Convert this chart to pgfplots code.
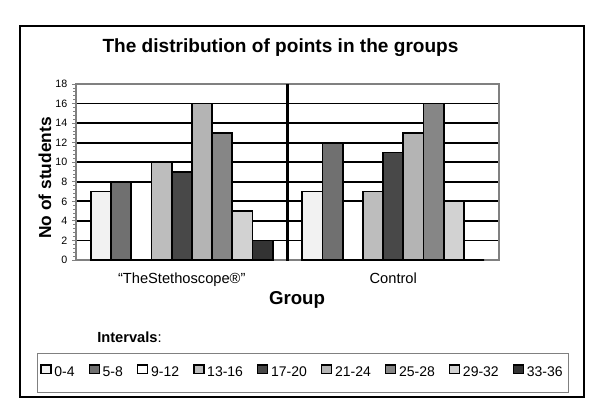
\documentclass[border=0pt]{standalone}
\usepackage{fontspec}
\setmainfont{Liberation Sans}
\usepackage{pgfplots}
\pgfplotsset{compat=1.18}

\definecolor{cA}{HTML}{F2F2F2}
\definecolor{cB}{HTML}{707070}
\definecolor{cC}{HTML}{FFFFFF}
\definecolor{cD}{HTML}{BDBDBD}
\definecolor{cE}{HTML}{484848}
\definecolor{cF}{HTML}{B4B4B4}
\definecolor{cG}{HTML}{868686}
\definecolor{cH}{HTML}{D2D2D2}
\definecolor{cI}{HTML}{333333}

\pgfplotsset{
  sqbar/.style={fill=#1, draw=black, line width=1.4pt,
    legend image code/.code={\draw[##1,line width=1.1pt] (0pt,-0.5pt) rectangle (7.5pt,6pt);}},
}

\begin{document}
\begin{tikzpicture}
\begin{scope}[x=0.75pt,y=-0.75pt]
\path (0,0) rectangle (600,419);
\draw[line width=1.6pt] (20,26) rectangle (584,397);
\node[font=\bfseries\fontsize{14.3}{16}\selectfont] at (280.5,48) {The distribution of points in the groups};
\node[font=\bfseries\fontsize{13}{15}\selectfont, rotate=90] at (45,178) {No of students};
\node[font=\bfseries\fontsize{14}{16}\selectfont] at (297,300) {Group};
\node[anchor=west, font=\fontsize{11}{13}\selectfont, inner sep=0pt] at (97,337) {\textbf{Intervals}:};
\end{scope}

\begin{axis}[
  at={(57pt,-195pt)}, anchor=south west,
  scale only axis, width=317.25pt, height=132pt,
  ybar=0pt, bar width=0.0955,
  xmin=-0.5, xmax=1.5, ymin=0, ymax=18,
  xtick={0,1}, xticklabels={“TheStethoscope®”, Control},
  x tick style={draw=none},
  xticklabel style={font=\fontsize{11}{13}\selectfont, yshift=-3pt},
  ytick={0,2,...,18}, minor y tick num=4, ytick pos=left,
  yticklabel style={font=\fontsize{8}{10}\selectfont},
  /pgf/number format/assume math mode=true,
  tick align=outside, y tick style={gray, line width=0.6pt},
  major tick length=3pt, minor tick length=2pt,
  axis line style={gray, line width=1pt},
  ymajorgrids, major grid style={black, line width=1.3pt},
  legend columns=9,
  legend style={at={(-0.0922,-0.5284)}, anchor=north west,
    draw=gray, line width=0.8pt, inner xsep=2pt, inner ysep=8pt,
    font=\fontsize{10.5}{12}\selectfont,
    /tikz/every odd column/.append style={column sep=0pt},
    /tikz/every even column/.append style={column sep=8.5pt}},
]
\addplot[sqbar=cA] coordinates {(0,7) (1,7)};
\addplot[sqbar=cB] coordinates {(0,8) (1,12)};
\addplot[sqbar=cC] coordinates {(0,8) (1,6)};
\addplot[sqbar=cD] coordinates {(0,10) (1,7)};
\addplot[sqbar=cE] coordinates {(0,9) (1,11)};
\addplot[sqbar=cF] coordinates {(0,16) (1,13)};
\addplot[sqbar=cG] coordinates {(0,13) (1,16)};
\addplot[sqbar=cH] coordinates {(0,5) (1,6)};
\addplot[sqbar=cI] coordinates {(0,2) (1,0)};
\legend{0-4,5-8,9-12,13-16,17-20,21-24,25-28,29-32,33-36}
\draw[line width=1.6pt] (axis cs:0.5,-0.3) -- (axis cs:0.5,18.6);
\end{axis}
\end{tikzpicture}
\end{document}
